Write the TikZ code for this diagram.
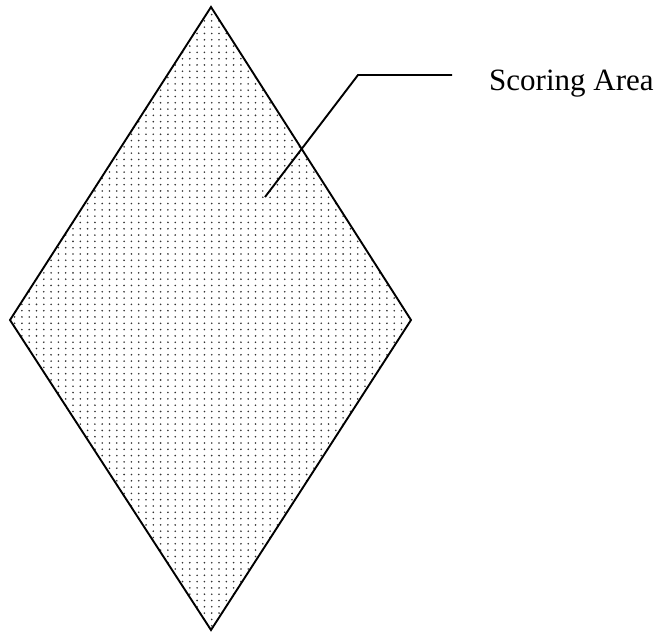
\documentclass[tikz,border=0pt]{standalone}
\usepackage{fontspec}
\setmainfont{Liberation Serif}
\usepackage{tikz}
\usetikzlibrary{patterns}

\pgfdeclarepatternformonly{scoredots}{\pgfqpoint{-1pt}{-1pt}}{\pgfqpoint{1pt}{1pt}}{\pgfqpoint{7.3pt}{6.3pt}}%
{\pgfpathcircle{\pgfqpoint{0pt}{0pt}}{0.9pt}\pgfusepath{fill}}

\tikzset{
    outline/.style={line width=1.9pt, line join=miter},
    leader/.style={line width=1.9pt},
    area/.style={pattern=scoredots, pattern color=black!80}
}

\begin{document}
\begin{tikzpicture}[x=1pt,y=-1pt]
        \useasboundingbox (0,0) rectangle (666,632);
        % corners of the diamond
        \coordinate (top) at (211,7);
        \coordinate (right) at (411,320);
        \coordinate (bottom) at (211,630);
        \coordinate (left) at (10,320);
        \fill[area] (top) -- (right) -- (bottom) -- (left) -- cycle;
        \draw[outline] (top) -- (right) -- (bottom) -- (left) -- cycle;
        % label with its leader line
        \node[anchor=base west, inner sep=0pt, font=\fontsize{31}{36}\selectfont] (label) at (489,90) {Scoring Area};
        \coordinate (tip) at (265,197);
        \coordinate (bend) at (358,75);
        \coordinate (lineend) at (452,75);
        \draw[leader] (tip) -- (bend) -- (lineend);
\end{tikzpicture}
\end{document}
